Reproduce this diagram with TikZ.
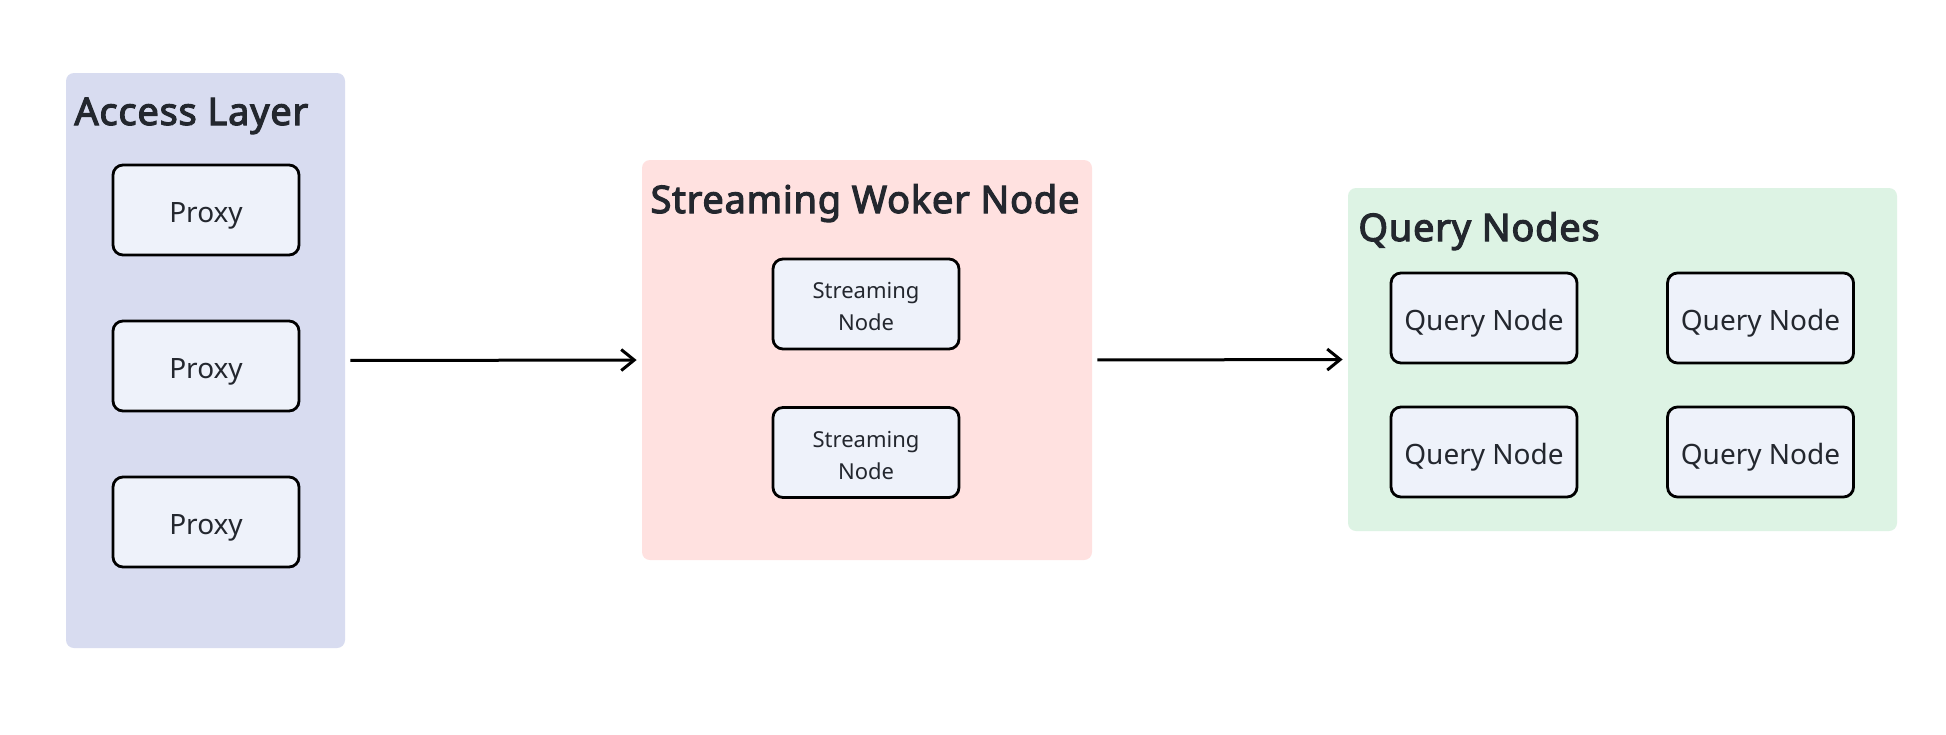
\documentclass[tikz,border=0pt]{standalone}
\usepackage{fontspec}
\setmainfont{Noto Sans}
\newfontfamily\titlefont{Noto Sans}[FakeBold=3,LetterSpace=2]
\usepackage{tikz}
\usepackage{xcolor}
\usetikzlibrary{arrows.meta}

\definecolor{accessbg}{HTML}{D8DCF0}
\definecolor{streambg}{HTML}{FFE1E0}
\definecolor{querybg}{HTML}{DDF3E4}
\definecolor{unitbg}{HTML}{EEF2FA}
\definecolor{inkdark}{HTML}{23272E}

\tikzset{
  panel/.style={fill=#1,draw=none,rounded corners=4pt,inner sep=0pt},
  unitbox/.style={draw=black,fill=unitbg,line width=1.4pt,rounded corners=5pt,
    minimum width=93pt,minimum height=45pt,inner sep=0pt,text=inkdark},
  unit/.style={unitbox,text height=12pt,text depth=0pt,font=\fontsize{14}{17}\selectfont},
  twoline/.style={unitbox,align=center,text height=27pt,font=\fontsize{11}{16}\selectfont},
  title/.style={text=inkdark,font=\fontsize{19}{22}\selectfont\titlefont,inner sep=0pt},
  flow/.style={line width=1.5pt,-{Straight Barb[length=6.5pt,width=10.5pt,line width=1.5pt]},shorten <=2.5pt,shorten >=2.5pt}
}

\begin{document}
\begin{tikzpicture}[x=0.5pt,y=-0.5pt]
    \useasboundingbox[fill=white] (0,0) rectangle (1946,734);
    % panels
    \node[panel=accessbg,minimum width=139.5pt,minimum height=287.5pt] (access) at (205.5,360.5) {};
    \node[panel=streambg,minimum width=225pt,minimum height=200pt] (stream) at (867,360) {};
    \node[panel=querybg,minimum width=274.5pt,minimum height=171.5pt] (query) at (1622.5,359.5) {};
    \node[title,anchor=base west] (accesstitle) at (74,125) {Access Layer};
    \node[title,anchor=base] (streamtitle) at (865,213) {Streaming Woker Node};
    \node[title,anchor=base west] (querytitle) at (1358,241) {Query Nodes};
    % access layer
    \node[unit] (proxy1) at (206,210) {Proxy};
    \node[unit] (proxy2) at (206,366) {Proxy};
    \node[unit] (proxy3) at (206,522) {Proxy};
    % streaming worker
    \node[twoline] (sn1) at (866,304) {Streaming\\Node};
    \node[twoline] (sn2) at (866,452.5) {Streaming\\Node};
    % query nodes
    \node[unit] (qn1) at (1484,318) {Query Node};
    \node[unit] (qn2) at (1760.5,318) {Query Node};
    \node[unit] (qn3) at (1484,452) {Query Node};
    \node[unit] (qn4) at (1760.5,452) {Query Node};
    % arrows
    \draw[flow] (access.east) -- (stream.west);
    \draw[flow] (stream.east) -- (query.west);
\end{tikzpicture}
\end{document}
